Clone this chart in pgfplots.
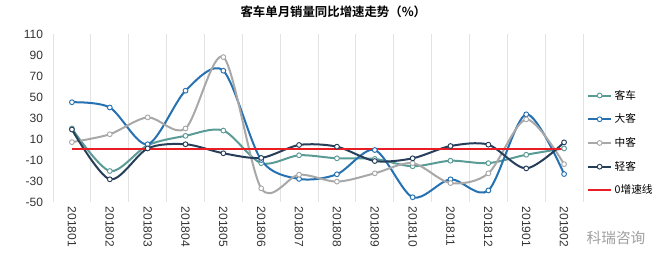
\documentclass[border=0pt]{standalone}
\usepackage{fontspec}
\setmainfont{Liberation Sans}
\newfontfamily\cjk{Noto Sans CJK SC}[BoldFont={Noto Sans CJK SC Bold}]
\usepackage{pgfplots}
\pgfplotsset{compat=1.18}
\definecolor{ck}{RGB}{91,155,150}
\definecolor{dk}{RGB}{38,113,178}
\definecolor{zk}{RGB}{168,168,168}
\definecolor{qk}{RGB}{38,62,90}
\definecolor{rl}{RGB}{232,30,36}
\begin{document}
\begin{tikzpicture}[x=1pt,y=1pt]
\path[use as bounding box] (0,0) rectangle (500.25,199.5);
\node[font=\cjk\bfseries\fontsize{9.3}{11}\selectfont] at (250,191) {客车单月销量同比增速走势（\%）};
\node[font=\cjk\fontsize{11}{12}\selectfont, text=gray!75] at (462,21) {科瑞咨询};
\begin{axis}[at={(39.75pt,48pt)}, anchor=south west, scale only axis,
  width=397.5pt, height=126pt,
  xmin=-0.5, xmax=13.5, ymin=-50, ymax=110,
  xtick={0,...,13},
  xticklabels={201801,201802,201803,201804,201805,201806,201807,201808,201809,201810,201811,201812,201901,201902},
  minor xtick={-0.5,0.5,...,13.5},
  xminorgrids, minor x grid style={gray!22, line width=0.7pt},
  ytick={-50,-30,-10,10,30,50,70,90,110},
  yticklabels={-50,-30,-10,10,30,50,70,90,110},
  axis line style={draw=none},
  major tick length=0pt, minor tick length=0pt,
  xticklabel style={rotate=-90, anchor=west, font=\fontsize{9}{10}\selectfont, text=black!80},
  yticklabel style={font=\fontsize{9}{10}\selectfont, xshift=-4pt, text=black!80},
  legend style={at={(1,0.70)}, anchor=north west, draw=none, fill=none,
    font=\cjk\fontsize{8}{9}\selectfont, row sep=5.5pt},
  legend cell align=left,
]
\addplot[color=ck, line width=1.5pt, smooth, mark=*, mark size=1.8pt, mark options={fill=white, draw=ck, line width=0.7pt}] coordinates {
(0,20) (1,-20.5) (2,4) (3,13) (4,18) (5,-13) (6,-5.5) (7,-8.4) (8,-9) (9,-16) (10,-10.7) (11,-13) (12,-5) (13,1)};
\addlegendentry{客车}
\addplot[color=dk, line width=1.5pt, smooth, mark=*, mark size=1.8pt, mark options={fill=white, draw=dk, line width=0.7pt}] coordinates {
(0,45) (1,40) (2,5) (3,56) (4,75) (5,-10) (6,-28) (7,-23.6) (8,-0.5) (9,-45.5) (10,-28.4) (11,-39) (12,33.5) (13,-23.4)};
\addlegendentry{大客}
\addplot[color=zk, line width=1.5pt, smooth, mark=*, mark size=1.8pt, mark options={fill=white, draw=zk, line width=0.7pt}] coordinates {
(0,7) (1,14.5) (2,30.6) (3,20) (4,88) (5,-37) (6,-24) (7,-30.6) (8,-22.7) (9,-13) (10,-32) (11,-22.7) (12,28.7) (13,-14)};
\addlegendentry{中客}
\addplot[color=qk, line width=1.5pt, smooth, mark=*, mark size=1.8pt, mark options={fill=white, draw=qk, line width=0.7pt}] coordinates {
(0,19) (1,-28.4) (2,1) (3,5) (4,-3.6) (5,-8) (6,4.3) (7,2.7) (8,-11) (9,-8.4) (10,3.3) (11,4.6) (12,-18) (13,6.8)};
\addlegendentry{轻客}
\addplot[color=rl, line width=1.5pt, mark=none, sharp plot] coordinates {(0,0) (1,0) (2,0) (3,0) (4,0) (5,0) (6,0) (7,0) (8,0) (9,0) (10,0) (11,0) (12,0) (13,0)};
\addlegendentry{0增速线}
\end{axis}
\end{tikzpicture}
\end{document}
